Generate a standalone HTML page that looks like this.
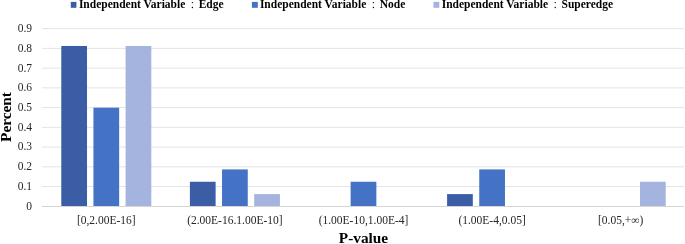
<!DOCTYPE html>
<html><head><meta charset="utf-8"><style>
html,body{margin:0;padding:0;background:#fff;width:685px;height:244px;overflow:hidden}
svg{display:block;will-change:transform}
text{font-family:"Liberation Serif",serif}
.tk{font-size:11.5px;fill:#262626}
.lg{font-size:11.5px;font-weight:bold;fill:#000}
.ti{font-size:15.3px;font-weight:bold;fill:#000}
</style></head><body>
<svg width="685" height="244" viewBox="0 0 685 244">
<rect x="42.0" y="205.95" width="642.0" height="1" fill="#D4D4D4"/>
<text x="32" y="209.70" text-anchor="end" class="tk">0</text>
<rect x="42.0" y="186.06" width="642.0" height="1" fill="#E4E4E4"/>
<text x="32" y="189.96" text-anchor="end" class="tk">0.1</text>
<rect x="42.0" y="166.32" width="642.0" height="1" fill="#E4E4E4"/>
<text x="32" y="170.22" text-anchor="end" class="tk">0.2</text>
<rect x="42.0" y="146.58" width="642.0" height="1" fill="#E4E4E4"/>
<text x="32" y="150.48" text-anchor="end" class="tk">0.3</text>
<rect x="42.0" y="126.84" width="642.0" height="1" fill="#E4E4E4"/>
<text x="32" y="130.74" text-anchor="end" class="tk">0.4</text>
<rect x="42.0" y="107.10" width="642.0" height="1" fill="#E4E4E4"/>
<text x="32" y="111.00" text-anchor="end" class="tk">0.5</text>
<rect x="42.0" y="87.36" width="642.0" height="1" fill="#E4E4E4"/>
<text x="32" y="91.26" text-anchor="end" class="tk">0.6</text>
<rect x="42.0" y="67.62" width="642.0" height="1" fill="#E4E4E4"/>
<text x="32" y="71.52" text-anchor="end" class="tk">0.7</text>
<rect x="42.0" y="47.88" width="642.0" height="1" fill="#E4E4E4"/>
<text x="32" y="51.78" text-anchor="end" class="tk">0.8</text>
<rect x="42.0" y="28.14" width="642.0" height="1" fill="#E4E4E4"/>
<text x="32" y="32.04" text-anchor="end" class="tk">0.9</text>
<rect x="61.29" y="45.97" width="25.72" height="160.03" fill="#3A5DA5"/>
<rect x="93.44" y="107.69" width="25.72" height="98.31" fill="#4472C4"/>
<rect x="125.59" y="45.97" width="25.72" height="160.03" fill="#A5B4DF"/>
<text x="106.30" y="223.5" text-anchor="middle" class="tk">[0,2.00E-16]</text>
<rect x="189.89" y="181.75" width="25.72" height="24.25" fill="#3A5DA5"/>
<rect x="222.04" y="169.41" width="25.72" height="36.59" fill="#4472C4"/>
<rect x="254.19" y="194.10" width="25.72" height="11.90" fill="#A5B4DF"/>
<text x="234.90" y="223.5" text-anchor="middle" class="tk">(2.00E-16.1.00E-10]</text>
<rect x="350.64" y="181.75" width="25.72" height="24.25" fill="#4472C4"/>
<text x="363.50" y="223.5" text-anchor="middle" class="tk">(1.00E-10,1.00E-4]</text>
<rect x="447.09" y="194.10" width="25.72" height="11.90" fill="#3A5DA5"/>
<rect x="479.24" y="169.41" width="25.72" height="36.59" fill="#4472C4"/>
<text x="492.10" y="223.5" text-anchor="middle" class="tk">(1.00E-4,0.05]</text>
<rect x="639.99" y="181.75" width="25.72" height="24.25" fill="#A5B4DF"/>
<text x="620.70" y="223.5" text-anchor="middle" class="tk">[0.05,+∞)</text>
<rect x="70.8" y="1.9" width="5.6" height="5.9" fill="#3A5DA5"/><text x="78.9" y="7.8" class="lg">Independent Variable</text><circle cx="192.40" cy="2.6" r="0.7" fill="#000"/><circle cx="192.40" cy="7.5" r="0.7" fill="#000"/><text x="198.70" y="7.8" class="lg">Edge</text><rect x="251.9" y="1.9" width="5.9" height="5.9" fill="#4472C4"/><text x="259.9" y="7.8" class="lg">Independent Variable</text><circle cx="373.40" cy="2.6" r="0.7" fill="#000"/><circle cx="373.40" cy="7.5" r="0.7" fill="#000"/><text x="379.70" y="7.8" class="lg">Node</text><rect x="433.5" y="1.9" width="5.8" height="5.9" fill="#A5B4DF"/><text x="441.7" y="7.8" class="lg">Independent Variable</text><circle cx="555.20" cy="2.6" r="0.7" fill="#000"/><circle cx="555.20" cy="7.5" r="0.7" fill="#000"/><text x="561.50" y="7.8" class="lg">Superedge</text>
<text x="363.5" y="243" text-anchor="middle" class="ti">P-value</text>
<text transform="translate(11,117) rotate(-90)" text-anchor="middle" class="ti">Percent</text>
</svg>
</body></html>
